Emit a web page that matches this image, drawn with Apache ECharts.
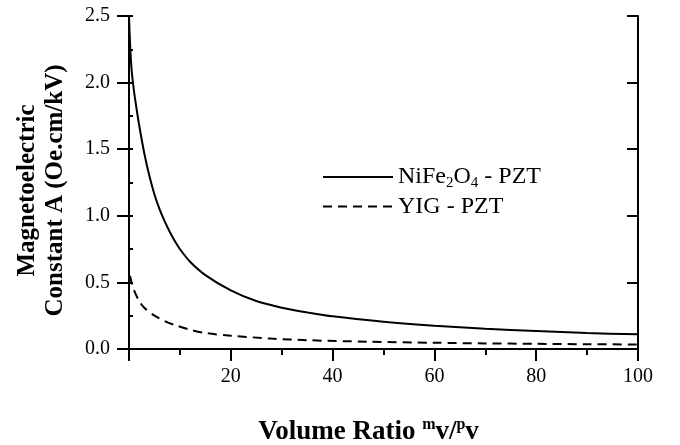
<!DOCTYPE html>
<html>
<head>
<meta charset="utf-8">
<script src="https://cdn.jsdelivr.net/npm/echarts@6/dist/echarts.min.js"></script>
<style>html,body{margin:0;padding:0;background:#fff}#c{width:680px;height:445px}</style>
</head>
<body>
<div id="c"></div>
<script>
// Data
var nifeX = [0, 0.2, 0.5, 1, 1.5, 2, 3, 4, 5, 6, 7, 8, 9, 10, 12, 15, 20, 25, 30, 35, 40, 50, 60, 70, 80, 90, 100];
var nifeY = [2.5, 2.3, 2.1, 1.93, 1.80, 1.68, 1.47, 1.30, 1.16, 1.05, 0.96, 0.88, 0.81, 0.75, 0.655, 0.555, 0.44, 0.36, 0.31, 0.275, 0.245, 0.205, 0.175, 0.152, 0.135, 0.12, 0.11];
var yigX = [0.2, 0.5, 1, 2, 3, 5, 7, 9, 12, 15, 20, 28, 35, 47, 60, 70, 80, 90, 100];
var yigY = [0.55, 0.5, 0.44, 0.36, 0.31, 0.25, 0.21, 0.18, 0.145, 0.12, 0.1, 0.078, 0.066, 0.055, 0.047, 0.042, 0.039, 0.036, 0.034];
var seriesNames = ['NiFe2O4 - PZT', 'YIG - PZT'];
var xTicks = [0, 100, 20];
var yTicks = [0, 2.5, 0.5];

function pairs(xs, ys) { return xs.map(function (x, i) { return [x, ys[i]]; }); }

var FONT = 'Liberation Serif';
var chart = echarts.init(document.getElementById('c'), null, {renderer: 'canvas'});
var option = {
  backgroundColor: '#fff',
  animation: false,
  grid: {left: 129, right: 42, top: 16, bottom: 96, containLabel: false, outerBoundsMode: 'none'},
  legend: {
    orient: 'vertical',
    left: 317, top: 160,
    itemWidth: 70, itemHeight: 14, itemGap: 4,
    data: seriesNames,
    itemStyle: {opacity: 0},
    textStyle: {
      fontFamily: FONT, fontSize: 24, color: '#000',
      rich: {
        n: {fontFamily: FONT, fontSize: 24, color: '#000'},
        sub: {fontFamily: FONT, fontSize: 15, color: '#000', padding: [12, 0, 0, 0]}
      }
    },
    formatter: function (name) {
      if (name === seriesNames[0]) return '{n|NiFe}{sub|2}{n|O}{sub|4}{n| - PZT}';
      return '{n|' + name + '}';
    }
  },
  xAxis: [{
    type: 'value', position: 'bottom', min: xTicks[0], max: xTicks[1], interval: xTicks[2],
    axisLine: {lineStyle: {color: '#000', width: 2}},
    axisTick: {inside: false, length: 12, lineStyle: {color: '#000', width: 2}},
    minorTick: {show: true, splitNumber: 2, length: 6, lineStyle: {color: '#000', width: 2}},
    splitLine: {show: false},
    axisLabel: {margin: 18, fontFamily: FONT, fontSize: 20, color: '#000',
      formatter: function (v) { return v === 0 ? '' : String(v); }},
    name: 'Volume Ratio {sup|m}v/{sup|p}v',
    nameLocation: 'middle', nameGap: 68,
    nameTextStyle: {fontFamily: FONT, fontSize: 27, fontWeight: 'bold', color: '#000', padding: [0, 30, 0, 0],
      rich: {sup: {fontFamily: FONT, fontSize: 16, fontWeight: 'bold', color: '#000', padding: [0, 0, 14, 0]}}}
  }, {
    type: 'value', position: 'top', min: xTicks[0], max: xTicks[1], interval: xTicks[2],
    axisLine: {show: true, lineStyle: {color: '#000', width: 2}},
    axisTick: {inside: true, length: 10, lineStyle: {color: '#000', width: 2}},
    axisLabel: {show: false}, splitLine: {show: false}
  }],
  yAxis: [{
    type: 'value', position: 'left', min: yTicks[0], max: yTicks[1], interval: yTicks[2],
    axisLine: {show: true, lineStyle: {color: '#000', width: 2}},
    axisTick: {inside: false, length: 12, lineStyle: {color: '#000', width: 2}},
    splitLine: {show: false},
    axisLabel: {margin: 19, fontFamily: FONT, fontSize: 20, color: '#000',
      formatter: function (v) { return v.toFixed(1); }},
    name: 'Magnetoelectric\nConstant A (Oe.cm/kV)',
    nameLocation: 'middle', nameGap: 59,
    nameTextStyle: {fontFamily: FONT, fontSize: 25, fontWeight: 'bold', color: '#000', lineHeight: 28, padding: [0, 16, 0, 0]}
  }, {
    type: 'value', position: 'left', min: yTicks[0], max: yTicks[1], interval: yTicks[2] / 2,
    axisLine: {show: false},
    axisTick: {inside: true, length: 4, lineStyle: {color: '#000', width: 2}},
    axisLabel: {show: false}, splitLine: {show: false}
  }, {
    type: 'value', position: 'right', min: yTicks[0], max: yTicks[1], interval: yTicks[2],
    axisLine: {show: true, lineStyle: {color: '#000', width: 2}},
    axisTick: {inside: true, length: 11, lineStyle: {color: '#000', width: 2}},
    axisLabel: {show: false}, splitLine: {show: false}
  }],
  series: [{
    name: seriesNames[0], type: 'line', symbol: 'none', smooth: 0.3,
    xAxisIndex: 0, yAxisIndex: 0,
    lineStyle: {color: '#000', width: 2, type: 'solid'},
    itemStyle: {color: '#000'},
    data: pairs(nifeX, nifeY)
  }, {
    name: seriesNames[1], type: 'line', symbol: 'none', smooth: 0.3,
    xAxisIndex: 0, yAxisIndex: 0,
    lineStyle: {color: '#000', width: 2, type: [9, 6]},
    itemStyle: {color: '#000'},
    data: pairs(yigX, yigY)
  }]
};
chart.setOption(option);
</script>
</body>
</html>
